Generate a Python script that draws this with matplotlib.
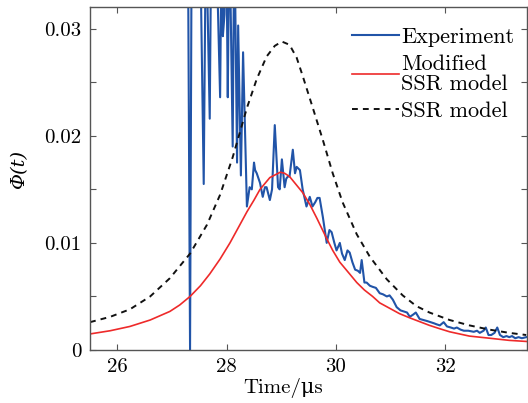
import numpy as np
import matplotlib
matplotlib.use("Agg")
from matplotlib import pyplot as plt

plt.rcParams["font.family"] = ["cmr10", "DejaVu Serif"]
plt.rcParams["mathtext.fontset"] = "cm"
plt.rcParams["axes.formatter.use_mathtext"] = True
plt.rcParams["font.size"] = 15

# experiment trace (time in us, Phi); 0.04 = off the top of the axes
t_exp = [27.29, 27.33, 27.36, 27.44, 27.51, 27.58, 27.62, 27.69, 27.72, 27.75,
         27.80, 27.88, 27.91, 27.93, 27.96, 27.99, 28.02, 28.05, 28.11, 28.14,
         28.19, 28.21, 28.26, 28.30, 28.37, 28.42, 28.46, 28.50, 28.52, 28.55,
         28.61, 28.66, 28.70, 28.73, 28.79, 28.83, 28.88, 28.94, 28.97, 29.01,
         29.06, 29.09, 29.12, 29.15, 29.21, 29.25, 29.28, 29.34, 29.39, 29.46,
         29.52, 29.57, 29.62, 29.66, 29.70, 29.76, 29.83, 29.88, 29.92, 29.97,
         30.01, 30.07, 30.11, 30.16, 30.21, 30.25, 30.30, 30.35, 30.40, 30.44,
         30.47, 30.52, 30.56, 30.62, 30.67, 30.73, 30.80, 30.86, 30.93, 30.98,
         31.04, 31.11, 31.18, 31.24, 31.30, 31.35, 31.41, 31.46, 31.53, 31.60,
         31.67, 31.73, 31.79, 31.84, 31.90, 31.97, 32.03, 32.10, 32.16, 32.21,
         32.28, 32.34, 32.42, 32.52, 32.58, 32.63, 32.70, 32.74, 32.79, 32.84,
         32.90, 32.95, 33.00, 33.06, 33.12, 33.17, 33.22, 33.28, 33.34, 33.40,
         33.48]
phi_exp = [0.040, 0.000, 0.040, 0.045, 0.040, 0.0155, 0.040, 0.0216, 0.040, 0.033,
           0.040, 0.0236, 0.040, 0.0293, 0.0313, 0.040, 0.0236, 0.040, 0.0190, 0.040,
           0.0175, 0.0303, 0.0163, 0.0278, 0.0134, 0.0152, 0.0150, 0.0175, 0.0168, 0.0165,
           0.0156, 0.0143, 0.0152, 0.0152, 0.0140, 0.0150, 0.0210, 0.0152, 0.0150, 0.0178,
           0.0152, 0.0160, 0.0162, 0.0162, 0.0187, 0.0165, 0.0171, 0.0168, 0.0150, 0.0134,
           0.0143, 0.0134, 0.0138, 0.0142, 0.0142, 0.0124, 0.0100, 0.0112, 0.0110, 0.0100,
           0.0093, 0.0100, 0.0090, 0.0084, 0.0093, 0.0091, 0.0082, 0.0075, 0.0074, 0.0072,
           0.0084, 0.0063, 0.0063, 0.0060, 0.0059, 0.0058, 0.0053, 0.0052, 0.0050, 0.0051,
           0.0047, 0.0040, 0.0037, 0.0036, 0.0035, 0.0031, 0.0033, 0.0035, 0.0029, 0.0028,
           0.0027, 0.0026, 0.0025, 0.0024, 0.0023, 0.0026, 0.0022, 0.0021, 0.0020, 0.0021,
           0.0019, 0.0018, 0.0018, 0.0017, 0.0018, 0.0016, 0.0018, 0.0021, 0.0014, 0.0014,
           0.0016, 0.0021, 0.0014, 0.0012, 0.0013, 0.0012, 0.0013, 0.0011, 0.0012, 0.0011,
           0.0012]

# modified SSR model
t_mod = [25.50, 25.87, 26.23, 26.60, 26.96, 27.14, 27.33, 27.52, 27.69, 27.88,
         28.06, 28.21, 28.37, 28.50, 28.61, 28.79, 28.98, 29.06, 29.15, 29.39,
         29.52, 29.65, 29.83, 29.94, 30.07, 30.25, 30.38, 30.52, 30.67, 30.80,
         30.98, 31.16, 31.35, 31.71, 31.89, 32.08, 32.44, 32.81, 33.17, 33.48]
phi_mod = [0.0015, 0.0018, 0.0022, 0.0028, 0.0036, 0.0042, 0.0050, 0.0060, 0.0071, 0.0085,
           0.0100, 0.0114, 0.0129, 0.0140, 0.0150, 0.0161, 0.0166, 0.0165, 0.0162, 0.0147,
           0.0136, 0.0123, 0.0104, 0.0093, 0.0082, 0.0071, 0.0063, 0.0056, 0.0050, 0.0044,
           0.0039, 0.0034, 0.0030, 0.0023, 0.0020, 0.0017, 0.0013, 0.0011, 0.0009, 0.0008]

# SSR model
t_ssr = [25.50, 25.87, 26.23, 26.60, 26.96, 27.33, 27.64, 27.88, 28.11, 28.37,
         28.55, 28.73, 28.88, 29.01, 29.15, 29.28, 29.39, 29.57, 29.76, 29.94,
         30.12, 30.38, 30.62, 30.93, 31.22, 31.47, 31.71, 32.08, 32.44, 32.81,
         33.17, 33.48]
phi_ssr = [0.0026, 0.0031, 0.0038, 0.0050, 0.0067, 0.0090, 0.0117, 0.0145, 0.0180, 0.0226,
           0.0253, 0.0274, 0.0284, 0.0288, 0.0285, 0.0273, 0.0256, 0.0227, 0.0196, 0.0165,
           0.0138, 0.0108, 0.0087, 0.0066, 0.0051, 0.0041, 0.0035, 0.0028, 0.0023, 0.0019,
           0.0016, 0.0014]

xticks = [26, 28, 30, 32]
yticks = [0, 0.01, 0.02, 0.03]
ytick_labels = ["0", "0.01", "0.02", "0.03"]

fig = plt.figure(figsize=(5.28, 4.03), dpi=100)
ax = fig.add_axes([0.1705, 0.1315, 0.8282, 0.8504])

ax.plot(t_exp, phi_exp, color="#2154a8", lw=1.5, label="Experiment")
ax.plot(t_mod, phi_mod, color="#ee2a2a", lw=1.2, label="Modified\nSSR model")
ax.plot(t_ssr, phi_ssr, color="#111111", lw=1.4, ls=(0, (3, 2.6)), label="SSR model")

ax.set_xlim(25.5, 33.5)
ax.set_ylim(0, 0.032)
ax.set_xticks(xticks)
ax.set_xticklabels([str(v) for v in xticks])
ax.set_yticks(yticks)
ax.set_yticklabels(ytick_labels)
ax.set_yticks([0.005, 0.015, 0.025], minor=True)
ax.tick_params(which="both", direction="in", top=True, right=True,
               length=4.3, width=0.8, color="#555555", pad=6)

for s in ax.spines.values():
    s.set_color("#555555")
    s.set_linewidth(1.0)

ax.set_xlabel("Time/μs")
ax.xaxis.set_label_coords(0.441, -0.082)
ax.set_ylabel("Φ(t)", family=["DejaVu Serif"], style="italic", fontsize=14)
ax.yaxis.set_label_coords(-0.142, 0.526)

leg = ax.legend(loc="upper left", bbox_to_anchor=(0.599, 0.942), frameon=False,
                handlelength=2.1, handletextpad=0.1, labelspacing=0.35,
                borderaxespad=0, borderpad=0, fontsize=16)
leg.get_texts()[1].set_linespacing(1.0)

fig.savefig("out.png", dpi=100)
